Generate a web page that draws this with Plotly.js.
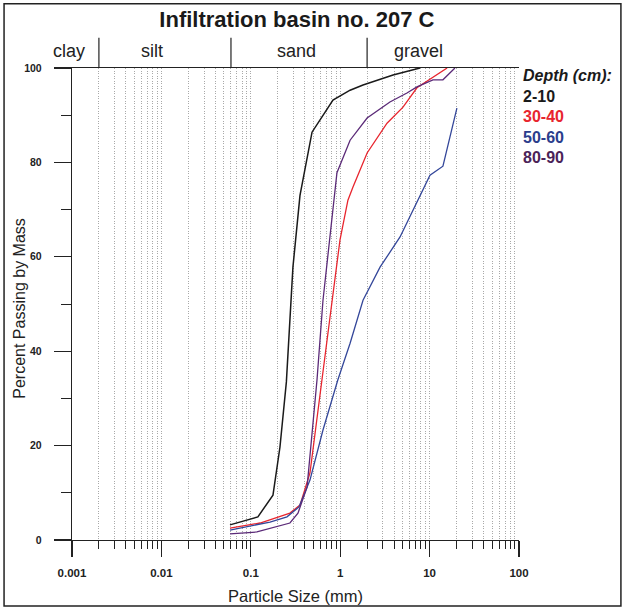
<!DOCTYPE html>
<html>
<head>
<meta charset="utf-8">
<script src="https://cdn.plot.ly/plotly-3.0.1.min.js"></script>
<style>html,body{margin:0;padding:0;background:#fff;}#chart{width:625px;height:611px;}</style>
</head>
<body>
<div id="chart"></div>
<script>
// Particle size (mm) and percent passing by mass
const depth2_10_x  = [0.0585, 0.12, 0.177, 0.212, 0.25, 0.296, 0.355, 0.484, 0.83, 1.29, 1.8, 3.9, 7.8];
const depth2_10_y  = [3.2, 4.9, 9.5, 19.7, 33.5, 57.8, 73.0, 86.4, 93.2, 95.3, 96.4, 98.5, 100];

const depth30_40_x = [0.0585, 0.127, 0.274, 0.355, 0.459, 0.55, 0.625, 0.769, 0.995, 1.22, 1.39, 2.0, 3.34, 5.04, 7.22, 10.9, 15.7];
const depth30_40_y = [2.5, 3.6, 5.7, 7.4, 14.2, 25.4, 33.9, 47.2, 63.6, 72.0, 74.8, 82.0, 88.3, 91.7, 95.8, 98.1, 100];

const depth50_60_x = [0.0585, 0.164, 0.254, 0.346, 0.459, 0.642, 0.94, 1.29, 1.8, 2.79, 4.67, 6.52, 10.1, 14.1, 20.2];
const depth50_60_y = [2.1, 3.8, 4.9, 7.0, 12.7, 23.3, 33.9, 41.7, 50.8, 57.8, 64.2, 69.9, 77.3, 79.2, 91.5];

const depth80_90_x = [0.0585, 0.117, 0.274, 0.337, 0.426, 0.55, 0.642, 0.769, 0.83, 0.92, 1.29, 2.0, 3.6, 5.58, 7.22, 10.9, 14.1, 19.2];
const depth80_90_y = [1.3, 1.7, 3.6, 5.7, 11.2, 33.9, 50.8, 65.0, 69.9, 77.8, 84.7, 89.4, 92.8, 94.7, 96.0, 97.5, 97.5, 100];

const seriesNames = ["2-10", "30-40", "50-60", "80-90"];
const seriesColors = ["#1a1a1a", "#e8252e", "#34479a", "#5b2a78"];
const legendColors = ["#1a1a1a", "#e8252e", "#2b3d8c", "#4b2358"];

const xTickVals = [0.001, 0.01, 0.1, 1, 10, 100];
const xTickText = ["0.001", "0.01", "0.1", "1", "10", "100"];

const classNames = ["clay", "silt", "sand", "gravel"];
const classBounds = [0.002, 0.06, 2]; // mm, boundaries between classes
const classLabelPos = [-0.007, 0.179, 0.503, 0.776]; // paper x of labels

const FONT = "Liberation Sans, Arial, sans-serif";

const xs = [depth2_10_x, depth30_40_x, depth50_60_x, depth80_90_x];
const ys = [depth2_10_y, depth30_40_y, depth50_60_y, depth80_90_y];

const traces = xs.map((x, i) => ({
  type: "scatter", mode: "lines", x: x, y: ys[i], name: seriesNames[i],
  line: {color: seriesColors[i], width: i === 0 ? 1.5 : 1.3},
  showlegend: false, hoverinfo: "x+y+name"
}));

const shapes = [];
classBounds.forEach(b => {
  shapes.push({type: "line", xref: "x", yref: "paper", x0: b, x1: b,
    y0: 1, y1: 1.064, line: {color: "#222", width: 1.2}});
});
shapes.push({type: "rect", xref: "paper", yref: "paper", x0: -0.152, x1: 1.228, y0: -0.140, y1: 1.136,
  line: {color: "#222", width: 1.5}, fillcolor: "rgba(0,0,0,0)"});

const annotations = [];
classNames.forEach((c, i) => {
  annotations.push({text: c, xref: "paper", yref: "paper", x: classLabelPos[i], y: 1.036,
    showarrow: false, xanchor: "center", yanchor: "middle",
    font: {family: FONT, size: 18, color: "#222"}});
});
annotations.push({text: "<b><i>Depth (cm):</i></b>", xref: "paper", yref: "paper", x: 1.005, y: (540 - 76) / 472,
  showarrow: false, xanchor: "left", yanchor: "middle", font: {family: FONT, size: 16, color: "#1a1a1a"}});
seriesNames.forEach((n, i) => {
  annotations.push({text: "<b>" + n + "</b>", xref: "paper", yref: "paper", x: 1.005, y: (540 - 97 - 20 * i) / 472,
    showarrow: false, xanchor: "left", yanchor: "middle", font: {family: FONT, size: 16, color: legendColors[i]}});
});
annotations.push({text: "Percent Passing by Mass", xref: "paper", yref: "paper", x: (20 - 72) / 447, y: 0.49,
  textangle: -90, showarrow: false, xanchor: "center", yanchor: "middle",
  font: {family: FONT, size: 16, color: "#222"}});

const gridColor = "#a9a9a9";
const layout = {
  width: 625, height: 611,
  margin: {l: 72, r: 106, t: 68, b: 71},
  paper_bgcolor: "#fff", plot_bgcolor: "#fff",
  showlegend: false,
  title: {text: "<b>Infiltration basin no. 207 C</b>", x: 0.475, xanchor: "center", y: 0.968, yanchor: "middle",
    font: {family: FONT, size: 22, color: "#1a1a1a"}},
  xaxis: {
    type: "log", range: [-3, 2],
    tickvals: xTickVals, ticktext: xTickText,
    ticks: "outside", ticklen: 16, tickwidth: 1.2, tickcolor: "#222",
    showline: true, linecolor: "#222", linewidth: 1.2, mirror: true,
    showgrid: true, gridcolor: gridColor, griddash: "1px,1.5px", gridwidth: 1,
    minor: {dtick: "D1", ticks: "outside", ticklen: 8, tickcolor: "#222", tickwidth: 1,
      showgrid: true, gridcolor: gridColor, griddash: "1px,1.5px", gridwidth: 1},
    tickfont: {family: FONT, size: 11.5, color: "#222", weight: "bold"},
    ticklabelstandoff: 6,
    zeroline: false,
    title: {text: "Particle Size (mm)", font: {family: FONT, size: 16.5, color: "#222"}, standoff: 12}
  },
  yaxis: {
    range: [0, 100], dtick: 20, tick0: 0,
    ticks: "outside", ticklen: 17, tickwidth: 1.2, tickcolor: "#222",
    minor: {dtick: 10, ticks: "outside", ticklen: 10, tickcolor: "#222", tickwidth: 1, showgrid: false},
    showline: true, linecolor: "#222", linewidth: 1.2,
    showgrid: false, zeroline: false,
    tickfont: {family: FONT, size: 10.5, color: "#222", weight: "bold"},
    ticklabelstandoff: 10
  },
  shapes: shapes,
  annotations: annotations
};

Plotly.newPlot("chart", traces, layout, {displayModeBar: false, staticPlot: true});
</script>
</body>
</html>
